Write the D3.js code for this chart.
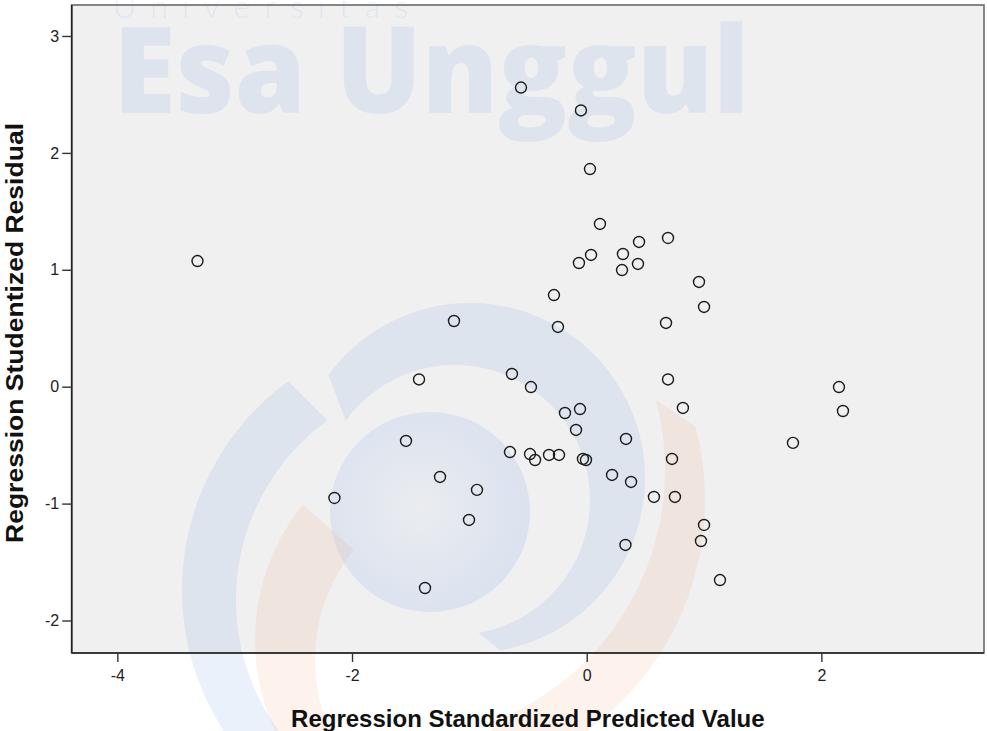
<!DOCTYPE html>
<html>
<head>
<meta charset="utf-8">
<script src="https://cdnjs.cloudflare.com/ajax/libs/d3/7.8.5/d3.min.js"></script>
<style>
  body { margin: 0; background: #fff; }
  svg { display: block; }
</style>
</head>
<body>
<script>
// standardized predicted value (x) and studentized residual (y)
var predicted = [-0.560, -0.049, 0.028, 0.113, 0.693, 0.446, 0.309, 0.037, -0.066, 0.437,
                 0.301, 0.957, 1.000, -3.317, -0.279, -0.245, 0.676, -1.131, -1.429, -0.637,
                 -0.475, 0.693, 0.820, 2.150, 2.184, -0.185, -0.057, -0.091, 0.335, -1.540,
                 1.758, -0.654, -0.483, -0.440, -0.321, -0.236, -0.032, -0.006, 0.727, 0.216,
                 0.378, -1.250, -0.935, 0.573, 0.752, -2.150, -1.003, 1.000, 0.974, 0.330,
                 1.136, -1.378];
var residual = [2.559, 2.363, 1.862, 1.392, 1.272, 1.238, 1.135, 1.127, 1.058, 1.050,
                0.998, 0.896, 0.682, 1.075, 0.784, 0.511, 0.545, 0.562, 0.062, 0.109,
                -0.003, 0.062, -0.182, -0.003, -0.208, -0.225, -0.191, -0.370, -0.447, -0.464,
                -0.481, -0.559, -0.576, -0.627, -0.584, -0.584, -0.618, -0.627, -0.618, -0.755,
                -0.815, -0.772, -0.883, -0.943, -0.943, -0.952, -1.140, -1.183, -1.320, -1.354,
                -1.654, -1.722];
var xTicks = [-4, -2, 0, 2];
var yTicks = [-2, -1, 0, 1, 2, 3];
var xTitle = "Regression Standardized Predicted Value";
var yTitle = "Regression Studentized Residual";

var w = 987, h = 731;
var pLeft = 71.7, pRight = 984, pTop = 5, pBottom = 653;

var xScale = d3.scaleLinear().domain([-4.389, 3.386]).range([pLeft, pRight]);
var yScale = d3.scaleLinear().domain([-2.278, 3.265]).range([pBottom, pTop]);

var svg = d3.select("body").append("svg")
  .attr("width", w)
  .attr("height", h);

svg.append("rect")
  .attr("width", w).attr("height", h)
  .attr("fill", "#fff");

svg.append("rect")
  .attr("x", pLeft).attr("y", pTop)
  .attr("width", pRight - pLeft).attr("height", pBottom - pTop)
  .attr("fill", "#f0f0f0");

// faint logo watermark
var wmBlue = "rgba(140,175,235,0.18)";
var wmOrange = "rgba(240,150,100,0.12)";
var rad = function(deg) { return deg * Math.PI / 180; };

function crescent(c1, r1, c2, r2, a0, a1) {
  var angles = d3.range(0, 81).map(function(i) { return rad(a0 + (a1 - a0) * i / 80); });
  var outer = angles.map(function(a) { return [c1[0] + r1 * Math.sin(a), c1[1] - r1 * Math.cos(a)]; });
  var inner = angles.slice().reverse().map(function(a) { return [c2[0] + r2 * Math.sin(a), c2[1] - r2 * Math.cos(a)]; });
  return d3.line()(outer.concat(inner)) + "Z";
}

var defs = svg.append("defs");
var grad = defs.append("radialGradient").attr("id", "disc").attr("cx", "45%").attr("cy", "48%").attr("r", "55%");
grad.append("stop").attr("offset", "0%").attr("stop-color", "rgba(140,175,235,0.06)");
grad.append("stop").attr("offset", "100%").attr("stop-color", "rgba(140,175,235,0.21)");

var wm = svg.append("g").attr("class", "watermark");

wm.append("circle")
  .attr("cx", 430).attr("cy", 512).attr("r", 100)
  .attr("fill", "url(#disc)");

wm.append("path")
  .attr("d", crescent([470, 478], 175, [455, 500], 135, -54, 170))
  .attr("fill", wmBlue);

wm.append("path")
  .attr("d", crescent([440, 590], 258, [458, 600], 222, -140, -36))
  .attr("fill", wmBlue);

wm.append("path")
  .attr("d", crescent([470, 640], 215, [490, 660], 175, -150, -51))
  .attr("fill", wmOrange);

wm.append("path")
  .attr("d", crescent([420, 500], 285, [395, 470], 270, 75, 160))
  .attr("fill", wmOrange);

wm.append("text")
  .attr("x", 113).attr("y", 113)
  .attr("font-family", "'Open Sans', sans-serif")
  .attr("font-weight", 800)
  .attr("font-size", 120)
  .attr("textLength", 637)
  .attr("lengthAdjust", "spacingAndGlyphs")
  .attr("fill", wmBlue)
  .text("Esa Unggul");

wm.append("text")
  .attr("x", 113).attr("y", 18)
  .attr("font-family", "Lato, sans-serif")
  .attr("font-weight", 300)
  .attr("font-size", 32)
  .attr("textLength", 295)
  .attr("lengthAdjust", "spacing")
  .attr("fill", wmBlue)
  .text("Universitas");

// frame
svg.append("rect")
  .attr("x", pLeft).attr("y", pTop)
  .attr("width", pRight - pLeft).attr("height", pBottom - pTop)
  .attr("fill", "none")
  .attr("stroke", "#6a6a6a")
  .attr("stroke-width", 1.6);

var xAxis = d3.axisBottom(xScale).tickValues(xTicks).tickSize(9).tickPadding(8).tickFormat(function(d) { return String(d); });
var yAxis = d3.axisLeft(yScale).tickValues(yTicks).tickSize(9.5).tickPadding(3).tickFormat(function(d) { return String(d); });

var gx = svg.append("g")
  .attr("transform", "translate(0," + pBottom + ")")
  .call(xAxis);
var gy = svg.append("g")
  .attr("transform", "translate(" + pLeft + ",0)")
  .call(yAxis);

[gx, gy].forEach(function(g) {
  g.select(".domain").attr("stroke", "#222").attr("stroke-width", 1.6);
  g.selectAll(".tick line").attr("stroke", "#333").attr("stroke-width", 1.4);
  g.selectAll(".tick text")
    .attr("fill", "#222")
    .attr("font-family", "'Liberation Sans', Arial, sans-serif")
    .attr("font-size", 16);
});
gx.select(".domain").attr("d", "M" + pLeft + ",0H" + pRight);
gy.select(".domain").attr("d", "M0," + pTop + "V" + pBottom);

svg.append("g")
  .selectAll("circle")
  .data(predicted)
  .enter()
  .append("circle")
  .attr("cx", function(d) { return xScale(d); })
  .attr("cy", function(d, i) { return yScale(residual[i]); })
  .attr("r", 5.5)
  .attr("fill", "none")
  .attr("stroke", "#1c1c1c")
  .attr("stroke-width", 1.4);

svg.append("text")
  .attr("x", (pLeft + pRight) / 2)
  .attr("y", 727)
  .attr("text-anchor", "middle")
  .attr("font-family", "'Liberation Sans', Arial, sans-serif")
  .attr("font-weight", "bold")
  .attr("font-size", 24)
  .attr("fill", "#111")
  .text(xTitle);

svg.append("text")
  .attr("transform", "translate(23,333) rotate(-90)")
  .attr("text-anchor", "middle")
  .attr("font-family", "'Liberation Sans', Arial, sans-serif")
  .attr("font-weight", "bold")
  .attr("font-size", 24)
  .attr("textLength", 420)
  .attr("lengthAdjust", "spacingAndGlyphs")
  .attr("fill", "#111")
  .text(yTitle);
</script>
</body>
</html>
